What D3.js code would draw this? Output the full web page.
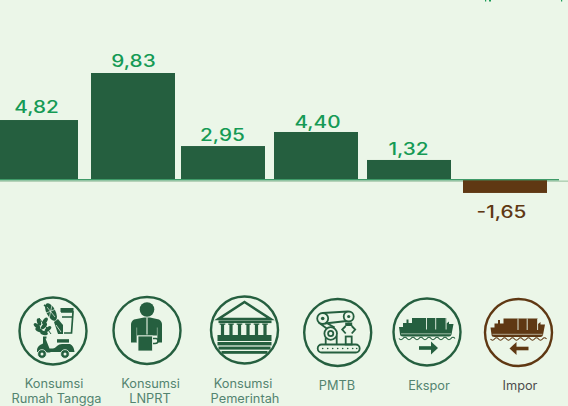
<!DOCTYPE html>
<html><head><meta charset="utf-8">
<script src="https://cdn.jsdelivr.net/npm/d3@7/dist/d3.min.js"></script>
<style>html,body{margin:0;padding:0;background:#ebf6e8;overflow:hidden}svg{display:block}</style>
</head><body><div id="c"></div>
<script>
// Categories and printed labels.
const categories = ["Konsumsi Rumah Tangga","Konsumsi LNPRT","Konsumsi Pemerintah","PMTB","Ekspor","Impor"];
const valueLabels = ["4,82","9,83","2,95","4,40","1,32","-1,65"];
// Bar lengths as drawn in the reference, in units of the 9,83 bar: the source
// infographic's bars are not strictly proportional to their printed labels.
const barLengths = [5.51,9.83,3.12,4.41,1.84,-1.19];
const categoryLines = [["Konsumsi","Rumah Tangga"],["Konsumsi","LNPRT"],["Konsumsi","Pemerintah"],["PMTB"],["Ekspor"],["Impor"]];

const W=568,H=406, DARK="#255f3f", BROWN="#5f3813", BG="#ebf6e8";
const barCentres=[36,133,223,316,409,505], iconCentres=[[53,331],[147,330.5],[244.5,330],[337.7,332.5],[427,332],[518.5,332.5]];
const labelCentres=[[54,56.5],[150.5,150],[243,245],[337],[429],[520]];
const valueCentres=[36.5,133.5,222.5,317.5,408.5,501.5], valueGaps=[7.3,6,5,4,5,-25];
const x=d3.scaleOrdinal().domain(categories).range(barCentres);
const y=d3.scaleLinear().domain([0,9.83]).range([180,73]);
const BW=84;
const svg=d3.select("#c").append("svg").attr("width",W).attr("height",H);
svg.append("rect").attr("width",W).attr("height",H).attr("fill",BG);

// clipped title descenders at the very top
svg.append("g").attr("fill","#1a9b57").selectAll("rect").data([[485,1.2],[489,2],[561,1.2]]).join("rect")
  .attr("x",d=>d[0]).attr("y",0).attr("width",d=>d[1]).attr("height",1.5);

// baseline
svg.append("rect").attr("x",0).attr("y",180.4).attr("width",W).attr("height",1.6).attr("fill","#b4d2b8");

svg.append("g").selectAll("rect").data(categories).join("rect")
  .attr("x",d=>x(d)-BW/2).attr("width",BW)
  .attr("y",(d,i)=>Math.min(y(barLengths[i]),y(0)))
  .attr("height",(d,i)=>Math.abs(y(barLengths[i])-y(0)))
  .attr("fill",(d,i)=>barLengths[i]<0?BROWN:DARK);
svg.append("rect").attr("x",0).attr("y",179).attr("width",559).attr("height",1.4).attr("fill","#3f9a68");

function wide(sel,f){sel.each(function(){this.setAttribute("textLength",this.getComputedTextLength()*f);this.setAttribute("lengthAdjust","spacingAndGlyphs");});}
svg.append("g").selectAll("text").data(categories).join("text")
  .attr("x",(d,i)=>valueCentres[i]).attr("y",(d,i)=>y(barLengths[i])-valueGaps[i])
  .attr("text-anchor","middle").attr("font-family","Inter").attr("font-size",16.6).attr("font-weight",450)
  .attr("fill",(d,i)=>barLengths[i]<0?BROWN:"#159a55").text((d,i)=>valueLabels[i]).call(wide,1.25);

// category labels
categoryLines.forEach((lines,i)=>{
  lines.forEach((t,j)=>{
    svg.append("text").attr("x",labelCentres[i][j]).attr("y",lines.length>1?387.5+j*15.5:390)
      .attr("text-anchor","middle").attr("font-family","Inter").attr("font-size",12.4).attr("font-weight",400)
      .attr("fill",i==5?"#4d4d4d":"#538470").text(t).call(wide,1.03);
  });
});

// icons
const icons=[
 g=>{ // food + scooter
  g.append("ellipse").attr("rx",4.5).attr("ry",9.5).attr("transform","translate(-2,-19) rotate(-28)").attr("fill",DARK);
  g.append("path").attr("d","M-6,-24L2,-14M-1,-26L-4,-12M-7,-18L3,-22").attr("stroke",BG).attr("stroke-width",0.7);
  g.append("path").attr("d","M-9,-26L-6,-24").attr("stroke",DARK).attr("stroke-width",1.6);
  g.append("path").attr("d","M-14,-13Q-8,-6-2,3").attr("stroke",DARK).attr("stroke-width",1).attr("fill","none");
  [[-14,-9,-15],[-8,-10,35],[-16,-5,-50],[-9,-5,40],[-14,-1,-65],[-5,-2,50],[-9,2,-75]].forEach(a=>
    g.append("ellipse").attr("rx",2).attr("ry",3.9).attr("transform",`translate(${a[0]},${a[1]}) rotate(${a[2]})`).attr("fill",DARK));
  g.append("path").attr("d","M1,-9L5,-12L10,-6L10,3L5,3Z").attr("fill",DARK);
  g.append("path").attr("d","M3,-6L8,1").attr("stroke",BG).attr("stroke-width",0.8);
  g.append("path").attr("d","M8,-19H20L18.5,2H11M9,-14H19.5").attr("fill","none").attr("stroke",DARK).attr("stroke-width",1.7);
  g.append("path").attr("d","M7.5,-23H20.5V-19H7.5Z").attr("fill",DARK);
  // scooter
  g.append("path").attr("d","M-10,5.5H-6.5V7.5H-7.5L-3.5,17.5Q2,18 4,15Q6,13 9,13H17Q21,15 21.5,21H-2Q-5,22-7,21H-16Q-17,15-10,12.5L-10,5.5Z").attr("fill",DARK);
  g.append("rect").attr("x",4).attr("y",8.2).attr("width",12).attr("height",3.4).attr("fill",DARK);
  [[-11,23],[12,23]].forEach(c=>{
    g.append("circle").attr("cx",c[0]).attr("cy",c[1]).attr("r",4.4).attr("fill",DARK).attr("stroke",BG).attr("stroke-width",0.8);
    g.append("circle").attr("cx",c[0]).attr("cy",c[1]).attr("r",1.5).attr("fill",BG);
  });
 },
 g=>{ // person with mug
  g.append("circle").attr("cy",-21).attr("r",7.3).attr("fill",DARK);
  g.append("path").attr("d","M-3,-13L-13,-11C-15,-10-16,-8-16,-6V12H-10V5H10V12H15V-6C15,-8 14,-10 12,-11L3,-13Z").attr("fill",DARK);
  g.append("path").attr("d","M0,-13V4").attr("stroke",BG).attr("stroke-width",1.1);
  g.append("path").attr("d","M-10.3,-3V12M10.3,-3V12").attr("stroke",BG).attr("stroke-width",0.45);
  g.append("rect").attr("x",-9).attr("y",5.5).attr("width",14.5).attr("height",15).attr("fill",DARK).attr("stroke",BG).attr("stroke-width",0.8);
  g.append("path").attr("d","M6,8H9Q11,8 11,10.5Q11,13 8,13H6").attr("fill","none").attr("stroke",DARK).attr("stroke-width",1.4);
 },
 g=>{ // government building
  g.append("path").attr("d","M0,-28L26,-11H-26Z").attr("fill","none").attr("stroke",DARK).attr("stroke-width",2.6);
  g.append("rect").attr("x",-26).attr("y",-9.5).attr("width",53).attr("height",2.6).attr("fill",DARK);
  [-22,-13.5,-5,3.5,12,20.5].forEach(c=>{
    g.append("rect").attr("x",c-1.6).attr("y",-6).attr("width",3.2).attr("height",11).attr("fill",DARK);
    g.append("rect").attr("x",c-2.8).attr("y",-6.5).attr("width",5.6).attr("height",1.3).attr("fill",DARK);
  });
  g.append("rect").attr("x",-27).attr("y",5).attr("width",54).attr("height",6).attr("fill",DARK);
  g.append("rect").attr("x",-27).attr("y",12).attr("width",54).attr("height",3.4).attr("fill",DARK);
  g.append("rect").attr("x",-26).attr("y",16.6).attr("width",52).attr("height",3).attr("fill",DARK);
  g.append("rect").attr("x",-23).attr("y",21).attr("width",46).attr("height",2.8).attr("fill",DARK);
 },
 g=>{ // robot arm + conveyor
  const s=p=>p.attr("fill","none").attr("stroke",DARK).attr("stroke-width",1.8);
  s(g.append("rect").attr("x",-20).attr("y",12).attr("width",42).attr("height",8).attr("rx",4));
  g.append("g").attr("fill",DARK).selectAll("circle").data([-15,-10,-5,0,5,10,15,19]).join("circle").attr("cx",d=>d).attr("cy",16).attr("r",0.8);
  s(g.append("path").attr("d","M-12,12V3M-1,12V3"));
  s(g.append("path").attr("d","M-15,-19.5L10,-21M-13,-9L9,-11.5M-19,-10L-11,-4M-12,-10L-3,-5"));
  g.append("circle").attr("cx",-7).attr("cy",1).attr("r",6.3).attr("fill",BG).attr("stroke",DARK).attr("stroke-width",1.8);
  s(g.append("circle").attr("cx",-7).attr("cy",1).attr("r",2.6));
  g.append("circle").attr("cx",-15).attr("cy",-14).attr("r",5.5).attr("fill",BG).attr("stroke",DARK).attr("stroke-width",1.8);
  g.append("circle").attr("cx",-15).attr("cy",-14).attr("r",1.8).attr("fill",DARK);
  g.append("circle").attr("cx",11).attr("cy",-16).attr("r",5).attr("fill",BG).attr("stroke",DARK).attr("stroke-width",1.8);
  g.append("circle").attr("cx",11).attr("cy",-16).attr("r",1.6).attr("fill",DARK);
  g.append("path").attr("d","M7.5,-10H14.5V-6.5H7.5Z").attr("fill",DARK);
  s(g.append("path").attr("d","M8,-6.5L4.5,-3L8,1M14,-6.5L17.5,-3L14,1"));
  s(g.append("rect").attr("x",8).attr("y",4).attr("width",6).attr("height",8));
 },
 null,null];
function ship(g,c,dir){
  // solid hull with stepped stern and raised bow
  g.append("path").attr("d","M-28,-5H-24V-9H-20.5V-12.5H-18.5V-9H-15V-14H19.5V-8.5L22,-10.5V-8H26.5L24.5,2.5Q24,4.5 22,4.5H-24Q-27,4.5-27,2Z").attr("fill",c);
  [0.0,9.2,19.6].forEach(v=>g.append("path").attr("d",`M${v-0.5},-14V-2.5`).attr("stroke",BG).attr("stroke-width",0.9));
  g.append("path").attr("d","M-26,1.8H24").attr("stroke",BG).attr("stroke-width",0.6);
  g.append("path").attr("d","M-28,6.5Q-26,9-24,6.5T-20,6.5T-16,6.5T-12,6.5T-8,6.5T-4,6.5T0,6.5T4,6.5T8,6.5T12,6.5T16,6.5T20,6.5T24,6.5T28,6.5").attr("fill","none").attr("stroke",c).attr("stroke-width",1.2);
  const a=g.append("g").attr("transform",`translate(1,16)scale(${dir},1)`).attr("fill",c);
  a.append("rect").attr("x",-9).attr("y",-1.8).attr("width",13).attr("height",3.6);
  a.append("path").attr("d","M3,-6.5L10,0L3,6.5Z");
}
iconCentres.forEach((c,i)=>{
  const col=i==5?BROWN:DARK;
  const g=svg.append("g").attr("transform",`translate(${c[0]},${c[1]})`);
  g.append("circle").attr("r",33.5).attr("fill","none").attr("stroke",col).attr("stroke-width",2.4);
  if(i<4) icons[i](g); else ship(g,col,i==4?1:-1);
});
</script></body></html>
